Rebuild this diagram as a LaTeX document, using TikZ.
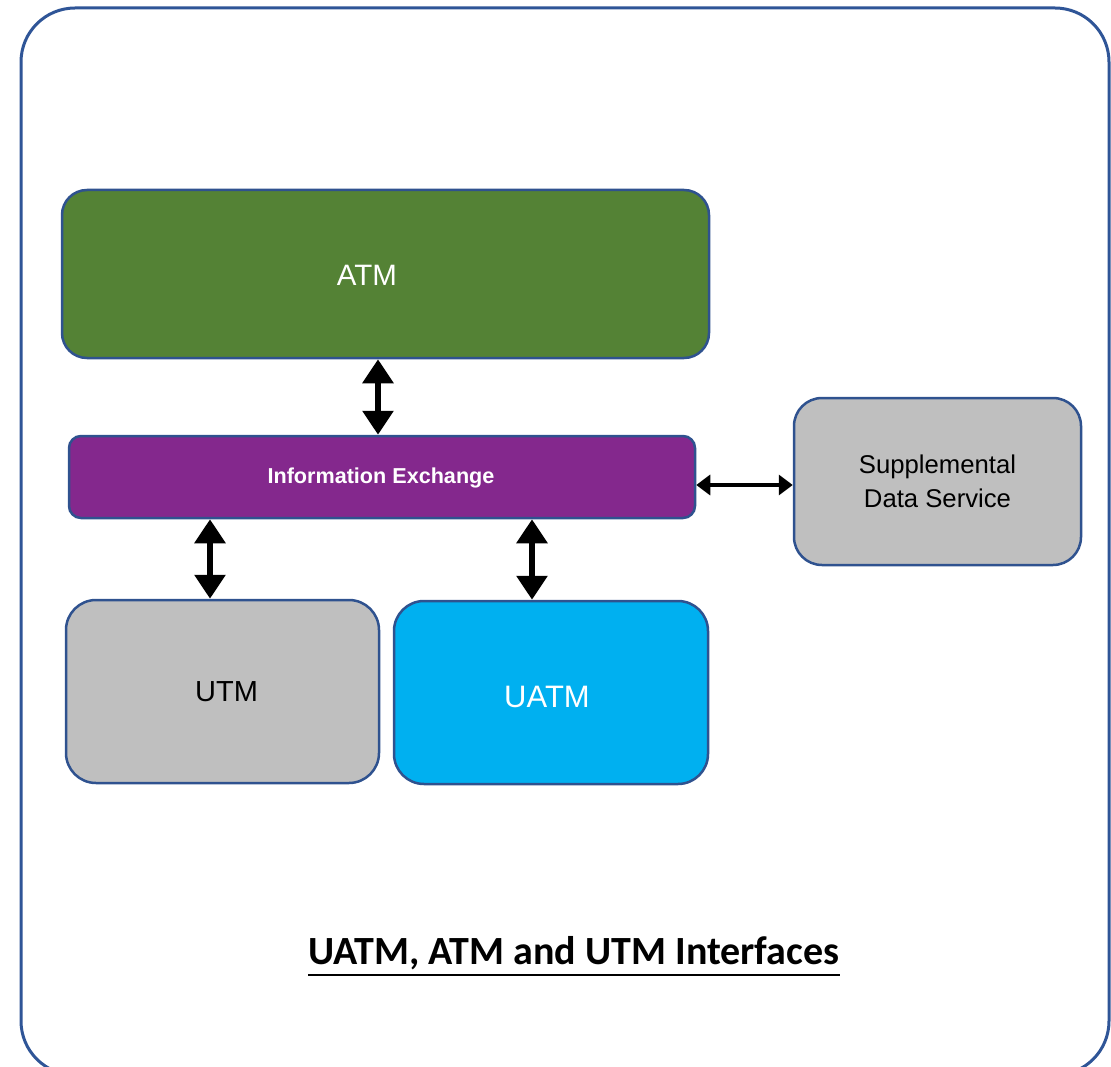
\documentclass[tikz,border=0pt]{standalone}
\usepackage{fontspec}
\setmainfont{Liberation Sans}
\newfontfamily\titlefont{Carlito}
\usetikzlibrary{arrows.meta}
\definecolor{framec}{HTML}{2F5597}
\definecolor{edgec}{HTML}{2F528F}
\definecolor{atmgreen}{HTML}{548235}
\definecolor{iepurple}{HTML}{84288D}
\definecolor{uatmcyan}{HTML}{00B0F0}
\definecolor{boxgray}{HTML}{BFBFBF}
\tikzset{
  box/.style={draw=edgec, line width=2.5pt, inner sep=0pt, align=center},
  bigdbl/.style={line width=6pt, {Triangle[width=30pt,length=24pt]}-{Triangle[width=30pt,length=24pt]}, draw=black},
  smalldbl/.style={line width=3.5pt, {Triangle[width=20pt,length=14pt]}-{Triangle[width=20pt,length=14pt]}, draw=black}
}
\begin{document}
\begin{tikzpicture}[x=1pt,y=-1pt]
\useasboundingbox (0,0) rectangle (1111,1067);
% outer frame
\draw[framec, line width=3pt, rounded corners=54pt] (21,8) rectangle (1109,1075);
% boxes
\node[box, fill=atmgreen, rounded corners=25pt, minimum width=647pt, minimum height=168pt] (atm) at (385.5,274) {};
\node[text=white, font=\fontsize{29.5}{34}\selectfont] (atmt) at (367,275) {ATM};
\node[box, fill=iepurple, rounded corners=12pt, minimum width=626pt, minimum height=82pt] (ie) at (382,477) {};
\node[text=white, font=\bfseries\fontsize{21.6}{26}\selectfont] (iet) at (381,478) {Information Exchange};
\node[box, fill=boxgray, rounded corners=28pt, minimum width=287pt, minimum height=167pt, font=\fontsize{25.7}{34}\selectfont] (sds) at (937.5,481.5) {Supplemental\\Data Service};
\node[box, fill=boxgray, rounded corners=30pt, minimum width=313pt, minimum height=183pt] (utm) at (222.5,691.5) {};
\node[font=\fontsize{29}{34}\selectfont] (utmt) at (226.5,692) {UTM};
\node[box, fill=uatmcyan, rounded corners=30pt, minimum width=314pt, minimum height=183pt] (uatm) at (551,692.5) {};
\node[text=white, font=\fontsize{31}{36}\selectfont] (uatmt) at (547,697) {UATM};
% connectors
\draw[bigdbl] (atm.south -| 378,0) -- (ie.north -| 378,0);
\draw[bigdbl] (ie.south -| 210,0) -- (utm.north -| 210,0);
\draw[bigdbl] (ie.south -| 532,0) -- (uatm.north -| 532,0);
\draw[smalldbl] (ie.east |- 0,485) -- (sds.west |- 0,485);
% title
\node[font=\titlefont\bfseries\fontsize{40}{46}\selectfont, inner sep=0pt, anchor=base] (title) at (574,964) {UATM, ATM and UTM Interfaces};
\draw[line width=2pt] ([yshift=-11pt]title.base west) -- ([yshift=-11pt]title.base east);
\end{tikzpicture}
\end{document}
